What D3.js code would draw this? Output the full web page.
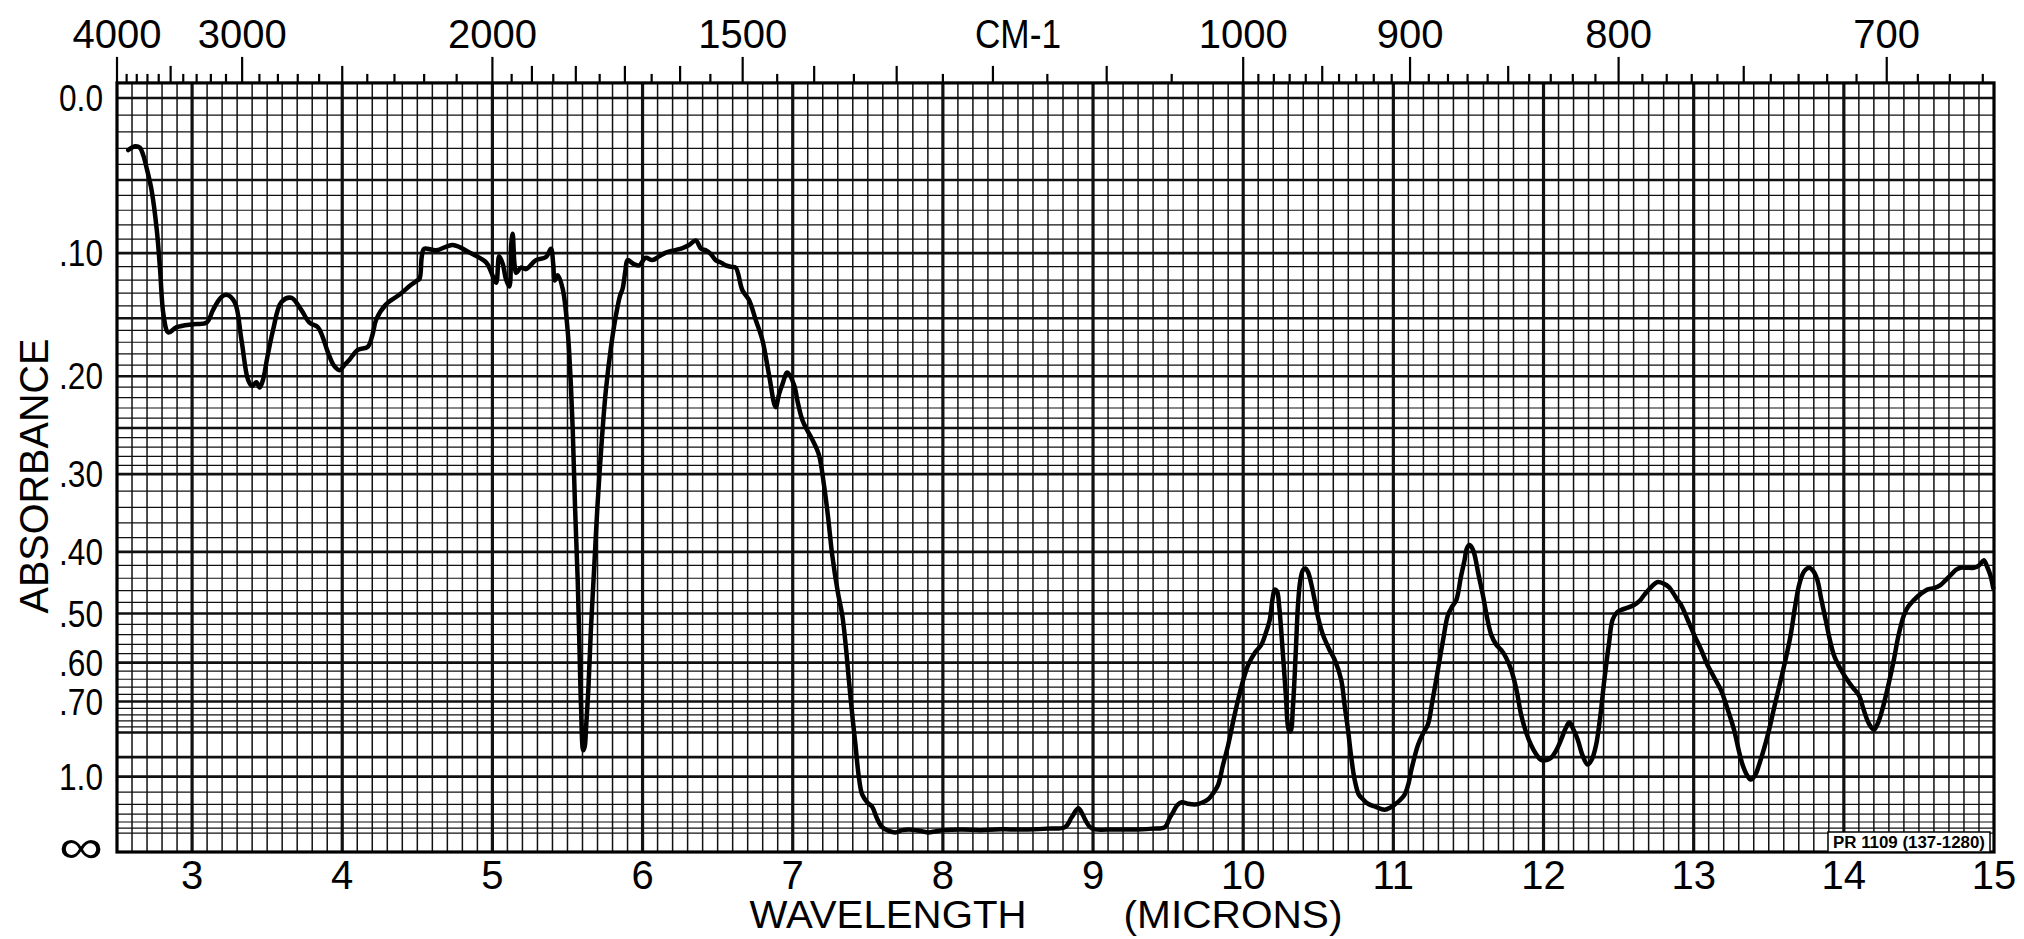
<!DOCTYPE html>
<html>
<head>
<meta charset="utf-8">
<script src="https://cdn.jsdelivr.net/npm/d3@7"></script>
<style>
  body { margin: 0; background: #fff; }
  svg text { font-family: "Liberation Sans", Arial, sans-serif; fill: #000; }
</style>
</head>
<body>
<div id="chart"></div>
<script>
// wavelength axis (microns) and absorbance axis labels
const micronTicks = [3, 4, 5, 6, 7, 8, 9, 10, 11, 12, 13, 14, 15];
const absorbanceTicks = [0, 0.1, 0.2, 0.3, 0.4, 0.5, 0.6, 0.7, 1.0, Infinity];
const absorbanceLabels = ["0.0", ".10", ".20", ".30", ".40", ".50", ".60", ".70", "1.0", "\u221E"];
const wavenumberLabels = [4000, 3000, 2000, 1500, 1000, 900, 800, 700];

// trace: [wavelength in microns, % transmittance]
const spectrum = [
  [2.575, 93.1], [2.62, 93.6], [2.653, 93.4], [2.675, 92.4], [2.70, 90.5], [2.73, 87.8],
  [2.765, 82.5], [2.787, 77.2], [2.81, 71.2], [2.842, 68.9], [2.897, 69.6], [3.008, 70.0],
  [3.096, 70.2], [3.14, 71.9], [3.19, 73.5], [3.229, 73.9], [3.284, 72.9], [3.329, 67.9],
  [3.373, 62.6], [3.40, 61.8], [3.428, 62.3], [3.45, 61.6], [3.472, 62.6], [3.50, 65.5],
  [3.539, 69.2], [3.594, 72.9], [3.66, 73.5], [3.727, 71.9], [3.782, 70.2], [3.838, 69.6],
  [3.87, 68.3], [3.904, 66.3], [3.945, 64.5], [3.982, 63.9], [4.015, 64.6], [4.048, 65.3],
  [4.104, 66.6], [4.17, 67.0], [4.20, 68.5], [4.226, 70.6], [4.29, 72.6], [4.38, 73.9],
  [4.457, 75.2], [4.50, 75.8], [4.515, 76.0], [4.53, 79.0], [4.545, 80.0], [4.626, 79.8],
  [4.737, 80.5], [4.847, 79.5], [4.958, 78.2], [4.99, 77.0], [5.025, 75.5], [5.045, 79.0],
  [5.069, 78.0], [5.09, 76.0], [5.113, 75.0], [5.125, 80.5], [5.135, 82.0], [5.147, 78.0],
  [5.158, 76.8], [5.19, 77.5], [5.224, 77.3], [5.29, 78.5], [5.357, 78.9], [5.39, 80.0],
  [5.405, 78.0], [5.415, 75.8], [5.435, 76.5], [5.468, 74.7], [5.501, 69.2], [5.52, 63.0],
  [5.535, 56.0], [5.55, 46.0], [5.568, 36.1], [5.58, 27.0], [5.59, 19.5], [5.605, 13.5],
  [5.615, 14.0], [5.623, 16.2], [5.64, 22.0], [5.656, 29.5], [5.68, 38.5], [5.70, 46.0],
  [5.73, 55.0], [5.756, 61.3], [5.79, 67.0], [5.823, 71.2], [5.85, 73.8], [5.867, 74.7],
  [5.885, 77.0], [5.90, 78.5], [5.94, 78.0], [5.978, 77.8], [6.02, 78.8], [6.066, 78.5],
  [6.11, 79.0], [6.155, 79.5], [6.21, 79.8], [6.266, 80.1], [6.31, 80.5], [6.354, 81.1],
  [6.39, 80.0], [6.421, 79.8], [6.455, 79.3], [6.487, 78.5], [6.52, 78.2], [6.554, 77.8],
  [6.59, 77.6], [6.62, 77.5], [6.665, 74.5], [6.709, 73.2], [6.753, 70.6], [6.798, 67.9],
  [6.842, 63.3], [6.886, 59.0], [6.91, 60.8], [6.931, 62.0], [6.964, 63.6], [7.008, 62.0],
  [7.035, 59.5], [7.064, 57.3], [7.10, 55.8], [7.13, 54.7], [7.174, 52.7], [7.208, 48.7],
  [7.235, 44.5], [7.263, 39.4], [7.30, 34.5], [7.33, 31.4], [7.355, 27.0], [7.374, 22.8],
  [7.40, 17.5], [7.418, 14.2], [7.44, 10.0], [7.463, 7.6], [7.50, 6.5], [7.529, 6.0],
  [7.56, 4.5], [7.595, 3.3], [7.64, 2.8], [7.684, 2.6], [7.73, 2.9], [7.773, 3.0],
  [7.85, 2.8], [7.906, 2.6], [8.0, 2.9], [8.127, 3.0], [8.25, 2.9], [8.349, 3.0],
  [8.45, 3.0], [8.57, 3.0], [8.70, 3.1], [8.814, 3.3], [8.858, 4.6], [8.902, 5.8],
  [8.93, 5.0], [8.947, 4.3], [8.98, 3.3], [9.013, 3.0], [9.146, 3.0], [9.30, 3.0],
  [9.40, 3.1], [9.479, 3.3], [9.51, 4.5], [9.534, 5.3], [9.56, 6.2], [9.59, 6.6],
  [9.63, 6.4], [9.678, 6.3], [9.72, 6.5], [9.767, 7.0], [9.80, 7.8], [9.833, 8.9],
  [9.865, 11.5], [9.90, 14.2], [9.935, 17.5], [9.966, 20.2], [10.0, 22.8], [10.033, 24.8],
  [10.08, 26.5], [10.121, 27.5], [10.15, 29.0], [10.177, 30.8], [10.195, 33.5], [10.21, 34.8],
  [10.225, 34.6], [10.24, 32.5], [10.265, 26.1], [10.285, 20.5], [10.303, 16.2], [10.315, 16.0],
  [10.332, 19.5], [10.35, 26.5], [10.365, 32.8], [10.38, 36.0], [10.398, 37.4], [10.415, 37.6],
  [10.432, 37.1], [10.455, 35.4], [10.476, 33.4], [10.50, 31.0], [10.531, 28.8], [10.57, 27.0],
  [10.609, 25.5], [10.653, 22.8], [10.675, 19.5], [10.698, 16.2], [10.72, 12.5], [10.742, 9.6],
  [10.77, 7.6], [10.797, 7.0], [10.831, 6.4], [10.88, 6.0], [10.942, 5.6], [10.98, 5.9],
  [11.009, 6.3], [11.045, 6.9], [11.075, 7.6], [11.10, 9.0], [11.12, 10.9], [11.164, 14.2],
  [11.20, 15.8], [11.23, 16.9], [11.26, 20.0], [11.297, 24.2], [11.33, 28.0], [11.363, 31.4],
  [11.39, 32.5], [11.419, 33.4], [11.45, 36.5], [11.474, 38.7], [11.49, 40.3], [11.507, 40.7],
  [11.525, 40.3], [11.541, 39.4], [11.565, 37.0], [11.596, 34.1], [11.625, 31.0], [11.652, 28.8],
  [11.685, 27.5], [11.718, 26.8], [11.75, 25.8], [11.784, 24.2], [11.82, 21.5], [11.851, 18.2],
  [11.885, 15.8], [11.917, 14.2], [11.95, 13.0], [11.984, 12.2], [12.02, 12.2], [12.05, 12.5],
  [12.085, 13.5], [12.117, 14.9], [12.145, 16.3], [12.172, 17.2], [12.20, 16.2], [12.228, 14.9],
  [12.26, 12.8], [12.294, 11.6], [12.32, 12.2], [12.35, 14.2], [12.378, 18.0], [12.405, 22.8],
  [12.435, 27.5], [12.46, 30.8], [12.49, 31.8], [12.516, 32.1], [12.56, 32.4], [12.605, 32.8],
  [12.64, 33.3], [12.671, 34.1], [12.72, 35.2], [12.76, 35.8], [12.80, 35.6], [12.837, 35.1],
  [12.865, 34.3], [12.893, 33.4], [12.915, 32.8], [12.96, 30.8], [13.003, 28.8], [13.05, 26.8],
  [13.092, 24.8], [13.135, 23.2], [13.181, 21.5], [13.225, 19.0], [13.269, 16.2], [13.30, 13.5],
  [13.325, 11.6], [13.355, 10.2], [13.38, 9.6], [13.41, 10.2], [13.436, 11.6], [13.47, 13.8],
  [13.502, 16.2], [13.54, 19.5], [13.58, 22.8], [13.615, 25.8], [13.646, 28.8], [13.675, 32.5],
  [13.702, 35.4], [13.735, 37.2], [13.768, 37.7], [13.795, 37.3], [13.823, 36.1], [13.85, 33.5],
  [13.879, 30.8], [13.905, 28.3], [13.934, 26.1], [13.98, 24.2], [14.023, 22.8], [14.06, 21.8],
  [14.10, 20.8], [14.13, 19.0], [14.156, 17.5], [14.18, 16.6], [14.20, 16.2], [14.225, 17.0],
  [14.255, 18.8], [14.295, 22.0], [14.333, 25.5], [14.365, 28.8], [14.40, 31.4], [14.43, 32.6],
  [14.466, 33.4], [14.51, 34.2], [14.555, 34.8], [14.60, 35.0], [14.643, 35.4], [14.675, 36.0],
  [14.71, 36.7], [14.745, 37.4], [14.776, 37.7], [14.82, 37.7], [14.865, 37.7], [14.90, 38.0],
  [14.932, 38.7], [14.955, 37.8], [14.976, 36.7], [14.995, 35.0]
];

const W = 2024, H = 939;

function init() {
    const svg = d3.select("#chart")
        .append("svg")
        .attr("width", W)
        .attr("height", H);

    svg.append("rect").attr("width", W).attr("height", H).attr("fill", "#fff");

    // chart paper: linear in transmittance, labelled in absorbance
    const x = d3.scaleLinear().domain([2.5, 15]).range([117, 1994]);
    const yT = d3.scaleLinear().domain([0, 100]).range([852, 98]);
    const yA = a => yT(100 * Math.pow(10, -a));
    const top = yT(102), bottom = yT(0);

    const grid = svg.append("g");

    // vertical grid, every 0.1 micron
    grid.selectAll("line.v")
        .data(d3.range(26, 150).map(i => i / 10))
        .enter()
        .append("line")
        .attr("x1", d => x(d)).attr("x2", d => x(d))
        .attr("y1", top).attr("y2", bottom)
        .attr("stroke", "#111")
        .attr("stroke-width", d => Math.abs(d - Math.round(d)) < 1e-6 ? 3.2 : 1.5)
        .classed("v", true);

    // horizontal grid in absorbance steps
    let rows = [];
    d3.range(0, 31).forEach(i => rows.push({ a: i / 100, heavy: i % 5 == 0 }));
    d3.range(16, 41).forEach(i => rows.push({ a: i * 2 / 100, heavy: (i * 2) % 10 == 0 }));
    d3.range(9, 17).forEach(i => rows.push({ a: i / 10, heavy: i <= 10 }));

    grid.selectAll("line.h")
        .data(rows)
        .enter()
        .append("line")
        .attr("x1", x(2.5)).attr("x2", x(15))
        .attr("y1", d => yA(d.a)).attr("y2", d => yA(d.a))
        .attr("stroke", "#111")
        .attr("stroke-width", d => d.heavy ? 2.6 : 1.2)
        .classed("h", true);

    // frame
    svg.append("rect")
        .attr("x", x(2.5)).attr("y", top)
        .attr("width", x(15) - x(2.5)).attr("height", bottom - top)
        .attr("fill", "none")
        .attr("stroke", "#000")
        .attr("stroke-width", 3.2);

    // wavenumber ticks along the top
    const wn = [].concat(d3.range(4000, 2000, -100), d3.range(2000, 1000, -50), d3.range(1000, 660, -10));
    svg.selectAll("line.wn")
        .data(wn)
        .enter()
        .append("line")
        .attr("x1", d => x(10000 / d)).attr("x2", d => x(10000 / d))
        .attr("y1", top)
        .attr("y2", function(d) {
            if (wavenumberLabels.indexOf(d) >= 0) return top - 26;
            let medium = (d > 2000 && d % 500 == 0) || (d > 1000 && d <= 2000 && d % 100 == 0) || (d < 1000 && d % 50 == 0);
            return medium ? top - 17 : top - 9;
        })
        .attr("stroke", "#000")
        .attr("stroke-width", 2.2)
        .classed("wn", true);

    svg.selectAll("text.wn")
        .data(wavenumberLabels)
        .enter()
        .append("text")
        .attr("x", d => x(10000 / d))
        .attr("y", 48)
        .attr("text-anchor", "middle")
        .attr("font-size", 40)
        .text(d => d)
        .classed("wn", true);

    svg.append("text")
        .attr("x", x(8.5)).attr("y", 48)
        .attr("text-anchor", "middle")
        .attr("font-size", 40)
        .attr("textLength", 86)
        .attr("lengthAdjust", "spacingAndGlyphs")
        .text("CM-1");

    // micron labels along the bottom
    svg.selectAll("text.um")
        .data(micronTicks)
        .enter()
        .append("text")
        .attr("x", d => x(d))
        .attr("y", 889)
        .attr("text-anchor", "middle")
        .attr("font-size", 40)
        .text(d => d)
        .classed("um", true);

    svg.append("text")
        .attr("x", 888).attr("y", 928)
        .attr("text-anchor", "middle")
        .attr("font-size", 38)
        .attr("textLength", 277)
        .attr("lengthAdjust", "spacingAndGlyphs")
        .text("WAVELENGTH");

    svg.append("text")
        .attr("x", 1233).attr("y", 928)
        .attr("text-anchor", "middle")
        .attr("font-size", 38)
        .attr("textLength", 219)
        .attr("lengthAdjust", "spacingAndGlyphs")
        .text("(MICRONS)");

    // absorbance labels
    svg.selectAll("text.ab")
        .data(absorbanceTicks)
        .enter()
        .append("text")
        .attr("x", 103)
        .attr("y", d => d === Infinity ? bottom - 6 : yA(d))
        .attr("dy", "0.36em")
        .attr("text-anchor", "end")
        .attr("font-size", (d, i) => d === Infinity ? 48 : 36)
        .attr("textLength", 44)
        .attr("lengthAdjust", "spacingAndGlyphs")
        .text((d, i) => absorbanceLabels[i])
        .classed("ab", true);

    svg.append("text")
        .attr("transform", "translate(48,476) rotate(-90)")
        .attr("text-anchor", "middle")
        .attr("font-size", 40)
        .attr("textLength", 275)
        .attr("lengthAdjust", "spacingAndGlyphs")
        .text("ABSORBANCE");

    // spectrum trace
    const line = d3.line()
        .x(d => x(d[0]))
        .y(d => yT(d[1]))
        .curve(d3.curveCatmullRom.alpha(0.5));

    svg.append("path")
        .datum(spectrum)
        .attr("d", line)
        .attr("fill", "none")
        .attr("stroke", "#000")
        .attr("stroke-width", 4.5)
        .attr("stroke-linejoin", "round")
        .attr("stroke-linecap", "round");

    // chart form number
    svg.append("rect")
        .attr("x", 1828).attr("y", 832)
        .attr("width", 162).attr("height", 20)
        .attr("fill", "#fff")
        .attr("stroke", "#000")
        .attr("stroke-width", 1.5);

    svg.append("text")
        .attr("x", 1833).attr("y", 848)
        .attr("font-size", 16)
        .attr("font-weight", "bold")
        .attr("textLength", 152)
        .attr("lengthAdjust", "spacingAndGlyphs")
        .text("PR 1109 (137-1280)");
}

window.onload = init;
</script>
</body>
</html>
